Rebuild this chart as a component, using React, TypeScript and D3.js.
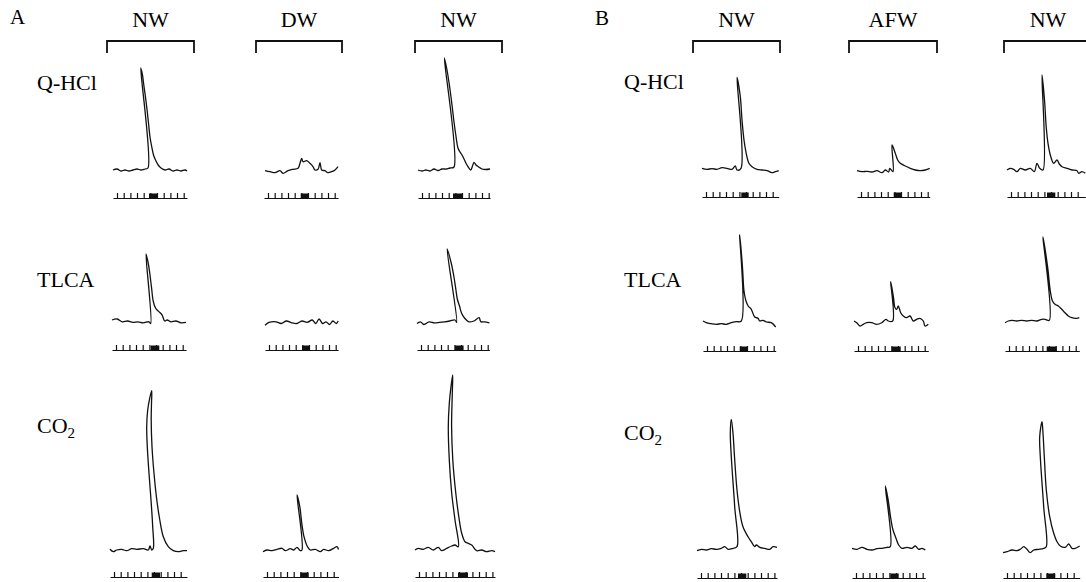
import React, { useEffect, useRef } from 'react';
import * as d3 from 'd3';

type Pt = [number, number];

// Panel labels, bath conditions and stimulants
const panels = ['A', 'B'];
const conditionsA = ['NW', 'DW', 'NW'];
const conditionsB = ['NW', 'AFW', 'NW'];
const agents = ['Q-HCl', 'TLCA', 'CO2'];

// Responses: [time, amplitude] pairs
const aQhclNw1: Pt[] = [[0, 0], [4, 1], [8, -1], [12, 0], [16, -1], [20, 0], [24, 1], [28, 0], [32, 1], [35, 2], [27.7, 102], [29.3, 96], [30.8, 85], [32.6, 72], [34.3, 58], [35.7, 45], [37, 33], [38.6, 24], [40.5, 15], [42.5, 10], [45.2, 5], [48, 2], [52, 0], [56, 1], [60, -1], [64, 0], [68, -1], [72, 0], [74, -1]];
const aQhclDw: Pt[] = [[1, -0.7], [6, -1.7], [11, -2.7], [16, -0.7], [19, -3.3], [24, -0.7], [29, 0.7], [34, 1.7], [36, 6.7], [37.7, 11.7], [39, 8.3], [42.7, 9.3], [46, 6.7], [49, 3.3], [51, 0], [54, 0.7], [56, 7.3], [57.7, 0], [61, -0.7], [64, -2.7], [67.7, -1.7], [71, 0], [74, 3.3]];
const aQhclNw2: Pt[] = [[0, 0], [4, -1], [8, 0], [12, -1], [16, 1], [20, -0.5], [24, 1], [28, 1], [32, 2], [36, 3], [26.3, 112], [29, 100], [31.8, 82], [34, 65], [36, 48], [37.8, 35], [40, 22], [42, 18], [44, 15], [46.5, 10], [49, 5], [52.7, 0], [54.5, 4], [56, 7.7], [58, 5], [60.3, 3.3], [64, 1], [68, 0.5], [72, 1]];

const aTlcaNw1: Pt[] = [[0, 1], [5.2, 2], [10.4, -0.8], [15.6, 0], [20.8, -1.4], [25.9, -0.8], [31.1, -1.8], [37, -0.8], [38.7, -2.5], [34, 67], [36.2, 58], [37.8, 47.5], [39.5, 33.7], [41.2, 20], [43.5, 13], [46.6, 9.6], [50, 6.1], [52.8, 0], [55.2, 1], [58.7, -0.8], [63.9, 0], [69, -1.8], [74, -1.4]];
const aTlcaDw: Pt[] = [[0, -4.2], [4.1, -1.4], [11, -0.8], [16.2, -2.5], [21.4, 0], [26.6, -1.8], [31.8, -2.5], [36.9, 0], [42.1, -1.4], [47.3, 1], [50.7, -2.5], [54.1, 2], [57.6, -2.5], [61, -0.8], [64.5, -3.5], [67.9, 0], [71.4, -2.5], [73.1, 0]];
const aTlcaNw2: Pt[] = [[0, -2.5], [3.4, -0.8], [6.9, -3.5], [12.1, -0.8], [17.3, -1.8], [22.4, -1.4], [27.6, -0.8], [32.8, 0], [38, 1], [39.7, -1.4], [30.1, 72], [34.2, 58], [36.8, 45], [38.8, 32], [40.3, 22], [42.5, 15], [44.5, 8], [47.5, 3], [51.8, -0.8], [56.9, 0], [62.1, 3.4], [63.8, -0.8], [67.3, -0.8], [72.4, -1.8]];

const aCo2Nw1: Pt[] = [[0, -0.3], [3.3, -2.7], [6.7, -1], [11.7, -0.3], [16.7, -1.7], [21.7, 0.3], [26.7, -0.3], [33.3, 0.3], [38.3, -1], [40, 3], [41.7, -1], [43.3, 0.7], [42.7, 22.3], [41, 49], [39, 75.7], [37.3, 102.3], [36.7, 122.3], [37.7, 139], [39.7, 150.7], [41.7, 158.3], [41.5, 145.7], [41.2, 129], [42, 102.3], [44, 75.7], [46.8, 49], [49.8, 29], [53.3, 12.3], [58.3, 2.3], [63.3, -1.7], [68.3, -2.7], [73.3, -1.7], [77, -1.7]];
const aCo2Dw: Pt[] = [[0, -2.7], [4, -1], [9, -1.7], [14, -0.3], [19, 0.7], [22.3, -1.7], [27.3, 0.3], [30.7, -1], [34, 1.7], [37.3, -1.7], [39, -1], [34, 54], [36.8, 42.3], [38.8, 25.7], [41, 12.3], [44.5, 2.3], [47.3, -1], [52.3, -0.3], [57.3, -2.7], [60.7, -0.3], [65.7, -1.7], [70.7, 0.7], [74, 2.3], [75.5, -0.5]];
const aCo2Nw2: Pt[] = [[0, -1], [3.3, 0.7], [8.3, -0.3], [13.3, 1.7], [18.3, -1], [23.3, 1.7], [26.7, -1.7], [31.7, 0.7], [36.7, 3], [40, 4], [43.3, 2.3], [40, 29], [36.7, 55.7], [34.3, 89], [33.3, 122.3], [34.3, 145.7], [36, 162.3], [37.7, 174], [37.3, 155.7], [36.6, 122.3], [37.8, 89], [40.8, 55.7], [43.8, 32.3], [46.7, 15.7], [50, 7.3], [53.3, 5.7], [56.7, 4], [61.7, -1.7], [66.7, -1], [71.7, -2.7], [76.7, -1.7], [80, -2.7]];

const bQhclNw1: Pt[] = [[0, 1.7], [5, 0.7], [10, 1.3], [15, 0.7], [20, 2.3], [25, 1.7], [30, 0.7], [33.3, 4], [35, 0], [39, 1.7], [35, 92.7], [38.3, 73.3], [40, 50], [42, 30], [44.2, 16.7], [46.9, 6.7], [50, 3.3], [55, 0.7], [60, 0], [65, -0.7], [70, -2.7], [73.3, -1.7], [76.7, -0.7]];
const bQhclAfw: Pt[] = [[0, -0.7], [5, -1.7], [10, -1.3], [15, -2], [20, -0.7], [25, -2.7], [28.3, 0], [31.7, -2], [32.7, 1.7], [36, -1.7], [35, 25], [38.3, 16.7], [40.7, 10], [43.3, 6.7], [48.3, 4], [53.3, 1.7], [58.3, 0], [63.3, -0.7], [68.3, 0], [72.7, 1.7]];
const bQhclNw2: Pt[] = [[0, 0], [3.3, 1.7], [6.7, 0.7], [10, -1.7], [13.3, 1.7], [18.3, 0], [23.3, 1.7], [27.3, -1.7], [30, 6.7], [32.7, 1.7], [36, 0], [35, 95], [37.5, 70], [39.2, 43.3], [41, 26.7], [43.8, 13.3], [46.7, 6.7], [50, 10], [52.3, 6], [55, 3.3], [60, 1.7], [65, 0], [70, -0.7], [71.7, -3.3], [75, -1.7], [78.3, -3.3]];

const bTlcaNw1: Pt[] = [[0, 0], [3.3, -1.7], [8.3, -2.7], [13.3, -3.3], [18.3, -2.7], [23.3, -3.3], [28.3, -1.7], [33.3, -0.7], [38.3, 0], [36.7, 86], [39.5, 53.3], [41, 30], [43, 20], [45.2, 15], [48.3, 11.7], [51.7, 4], [55, 2.7], [56.7, 0], [60, 0.7], [63.3, -1], [68.3, -1.7], [72.7, -6]];
const bTlcaAfw: Pt[] = [[0, 0], [2.7, -1.7], [6, -5], [9.3, -3.3], [12.7, -1.7], [17.7, -1.7], [22.7, -3.3], [27.7, -1.7], [32, 1.7], [34.3, 0], [38.7, 0], [36.7, 39.3], [39.5, 23.3], [41, 13.3], [42.7, 11.7], [44.3, 15], [46.7, 8.3], [49.3, 5], [52.7, 3.3], [56, 5], [59.3, 0], [62.7, 1.7], [66, 2.7], [69.3, 0], [71, -5], [74.3, -3.3]];
const bTlcaNw2: Pt[] = [[0, -1.7], [3.3, 0], [6.7, 0.7], [11.7, 0], [16.7, 0.7], [21.7, 0], [26.7, 0.7], [31.7, 0], [36.7, 1.7], [40, 1.7], [44.3, 0.7], [38, 84], [42.7, 53.3], [45.3, 30], [47.5, 20], [50, 16.7], [53.3, 15], [56.7, 11.7], [60, 8.3], [63.3, 5], [66.7, 3.3], [71.7, 2.7], [74.3, 3.3]];

const bCo2Nw1: Pt[] = [[0, -1.7], [4.3, -0.3], [9.3, -1], [14.3, 0.3], [19.3, -0.3], [24.3, 0.7], [27.7, 2.3], [31, -0.3], [36, 0.7], [40, 2.3], [37.7, 42.3], [34.3, 92.3], [33.3, 115.7], [34.3, 129.7], [36, 115.7], [37.5, 92.3], [40, 59], [43, 35.7], [46, 22.3], [51, 12.3], [54.3, 7.3], [57.7, 2.3], [59.3, 4], [62.7, 1.7], [67.7, 0.7], [72.7, -0.3], [76, 2.3], [80, 1.7]];
const bCo2Afw: Pt[] = [[0, 0.7], [5, -0.3], [10, 1.7], [15, -0.3], [20, -1], [25, 0.3], [30, 0.7], [35, 1.7], [38.3, 2.3], [33.3, 63], [36.2, 49], [38.5, 32.3], [41, 19], [44, 10.7], [46.7, 4], [50, 0.7], [55, 1.7], [60, 0.7], [63.3, 3], [66.7, -0.3], [70, 0.7], [73.3, -1]];
const bCo2Nw2: Pt[] = [[0, -3.7], [4, -2.7], [9, -1], [14, -1.7], [17.3, -0.3], [20.7, 2.3], [24, -0.3], [27.3, -3.7], [30.7, -1], [35.7, -0.3], [40.7, 0.7], [43.3, 2.3], [40.7, 42.3], [37.3, 92.3], [36.7, 112.3], [39, 127.3], [40, 115.7], [41.3, 92.3], [43.3, 59], [46.7, 32.3], [50.7, 15.7], [54, 7.3], [57.3, 3], [62.3, 1.7], [65.7, 5], [69, 0.7], [72.3, 0.7], [76.7, 3]];

// Stimulus bars on the event channel: [on, off]
const stimA: Pt[][] = [
  [[36, 45], [36.7, 45], [35, 45]],
  [[38.7, 47.3], [37, 44], [38, 46.6]],
  [[41.7, 50], [37.3, 45.7], [43, 53]],
];
const stimB: Pt[][] = [
  [[39.3, 46.7], [36.7, 45], [40, 48.3]],
  [[36.7, 45], [37.7, 46.7], [41.7, 51.7]],
  [[41, 49.3], [38.3, 46.7], [43.3, 52.3]],
];

// Timer marks on the event channel
const markTicks = [4, 10.7, 17.4, 24, 30.7, 37.4, 44, 50.7, 57.4, 64, 70.7, 77.4];

const tracesA: Pt[][][] = [
  [aQhclNw1, aQhclDw, aQhclNw2],
  [aTlcaNw1, aTlcaDw, aTlcaNw2],
  [aCo2Nw1, aCo2Dw, aCo2Nw2],
];
const tracesB: Pt[][][] = [
  [bQhclNw1, bQhclAfw, bQhclNw2],
  [bTlcaNw1, bTlcaAfw, bTlcaNw2],
  [bCo2Nw1, bCo2Afw, bCo2Nw2],
];

// layout
const W = 1086;
const H = 582;
const FONT = '"Liberation Serif", "Times New Roman", serif';
const layout = [
  {
    label: { x: 10, y: 24 },
    brackets: [[107, 194], [256, 342], [415, 502]],
    origins: [[113, 264, 418], [112, 265, 417], [110, 263, 415]],
    markY: [198, 350, 577],
    labelX: 37,
    labelY: [90, 287, 433],
  },
  {
    label: { x: 595, y: 25 },
    brackets: [[693, 780], [849, 937], [1004, 1092]],
    origins: [[702, 857, 1007], [703, 854, 1005], [697, 852, 1003]],
    markY: [197, 351, 578],
    labelX: 624,
    labelY: [89, 287, 440],
  },
];
const baselines = [170, 321, 549];

const App: React.FC = () => {
  const svgRef = useRef<SVGSVGElement>(null);

  useEffect(() => {
    if (!svgRef.current) return;
    const svg = d3.select(svgRef.current);
    svg.selectAll('*').remove();

    const time = d3.scaleLinear().domain([0, 100]).range([0, 100]);
    const amp = d3.scaleLinear().domain([0, 200]).range([0, -200]);

    const line = d3.line<Pt>()
      .x(d => time(d[0]))
      .y(d => amp(d[1]))
      .curve(d3.curveCatmullRom.alpha(0.5));

    panels.forEach((panel, p) => {
      const L = layout[p];
      const conds = p === 0 ? conditionsA : conditionsB;
      const traces = p === 0 ? tracesA : tracesB;
      const stim = p === 0 ? stimA : stimB;

      svg.append('text')
        .attr('x', L.label.x)
        .attr('y', L.label.y)
        .style('font-family', FONT)
        .style('font-size', '21px')
        .text(panel);

      // condition headers + brackets
      conds.forEach((c, i) => {
        const [x1, x2] = L.brackets[i];
        svg.append('text')
          .attr('x', Math.min((x1 + x2) / 2, 1049))
          .attr('y', 27)
          .attr('text-anchor', 'middle')
          .style('font-family', FONT)
          .style('font-size', '22px')
          .text(c);
        svg.append('path')
          .attr('d', `M${x1},53V41H${x2}V53`)
          .attr('fill', 'none')
          .attr('stroke', '#111')
          .attr('stroke-width', 1.8);
      });

      // row labels
      agents.forEach((a, r) => {
        const txt = svg.append('text')
          .attr('x', L.labelX)
          .attr('y', L.labelY[r])
          .style('font-family', FONT)
          .style('font-size', '22px');
        if (a === 'CO2') {
          txt.append('tspan').text('CO');
          txt.append('tspan').attr('dy', 5).style('font-size', '15px').text('2');
        } else {
          txt.text(a);
        }
      });

      traces.forEach((row, r) => {
        row.forEach((pts, c) => {
          const x0 = L.origins[r][c];
          const end = d3.max(pts, d => d[0]) || 74;

          svg.append('g')
            .attr('transform', `translate(${x0},${baselines[r]})`)
            .append('path')
            .attr('d', line(pts) || '')
            .attr('fill', 'none')
            .attr('stroke', '#111')
            .attr('stroke-width', 1.3)
            .attr('stroke-linejoin', 'round');

          // event channel
          const tm = time.copy().domain([0, end]).range([time(0), time(end)]);
          const mg = svg.append('g')
            .attr('transform', `translate(${x0},${L.markY[r]})`);
          mg.call(
            d3.axisTop(tm)
              .tickValues(markTicks.filter(v => v < end - 1))
              .tickSizeInner(5)
              .tickSizeOuter(0)
              .tickFormat(() => '')
          );
          mg.selectAll('path, line')
            .attr('stroke', '#111')
            .attr('stroke-width', 1.2);
          const [on, off] = stim[r][c];
          mg.append('rect')
            .attr('x', tm(on))
            .attr('y', -4.5)
            .attr('width', tm(off) - tm(on))
            .attr('height', 5)
            .attr('fill', '#111');
        });
      });
    });
  }, []);

  return (
    <svg
      ref={svgRef}
      width={W}
      height={H}
      style={{ position: 'absolute', left: 0, top: 0, background: '#fff' }}
    />
  );
};

export default App;
